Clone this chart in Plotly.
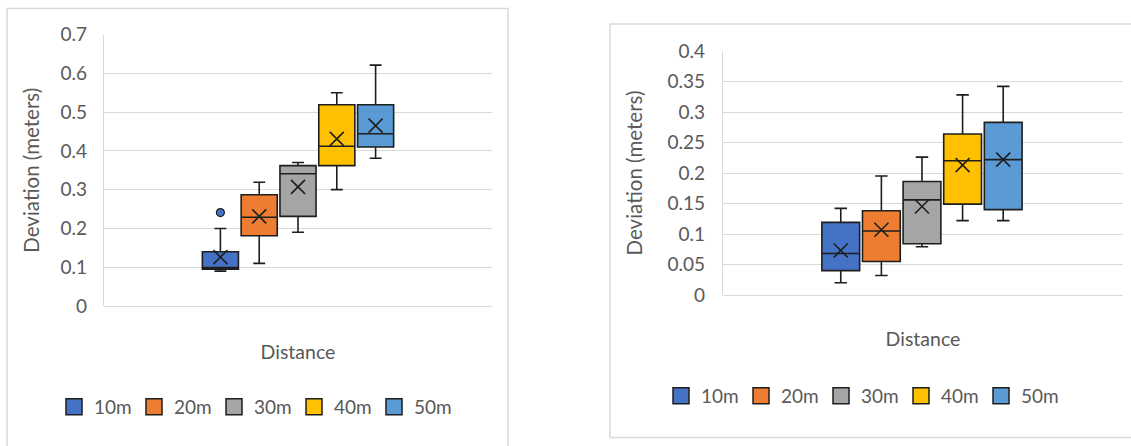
import plotly.graph_objects as go

# ---------------- data ----------------
categories = ["10m", "20m", "30m", "40m", "50m"]
colors = ["#4472C4", "#ED7D31", "#A5A5A5", "#FFC000", "#5B9BD5"]

# left chart
a_lower = [0.090, 0.110, 0.190, 0.300, 0.381]
a_q1 = [0.095, 0.181, 0.231, 0.362, 0.410]
a_median = [0.099, 0.229, 0.341, 0.412, 0.444]
a_q3 = [0.140, 0.287, 0.362, 0.519, 0.519]
a_upper = [0.200, 0.319, 0.370, 0.550, 0.621]
a_mean = [0.126, 0.231, 0.307, 0.431, 0.465]
a_outlier_cat = ["10m"]
a_outlier_val = [0.241]

# right chart
b_lower = [0.020, 0.032, 0.079, 0.122, 0.122]
b_q1 = [0.040, 0.055, 0.084, 0.149, 0.140]
b_median = [0.068, 0.105, 0.156, 0.220, 0.222]
b_q3 = [0.119, 0.138, 0.186, 0.264, 0.283]
b_upper = [0.142, 0.195, 0.226, 0.328, 0.342]
b_mean = [0.073, 0.107, 0.145, 0.213, 0.222]

y_title = "Deviation (meters)"
x_title = "Distance"

# ---------------- styling ----------------
W, H = 1131, 446
FONT = "Lato"
TXT = "#595959"
GRID = "#D9D9D9"
EDGE = "#1E1E1E"


def px(x):
    return x / W


def py(y):
    return 1 - y / H


fig = go.Figure()


def add_chart(xa, ya, legend, lower, q1, med, q3, upper, mean):
    for i, cat in enumerate(categories):
        fig.add_trace(go.Box(
            x=[cat], q1=[q1[i]], median=[med[i]], q3=[q3[i]],
            lowerfence=[lower[i]], upperfence=[upper[i]],
            fillcolor=colors[i], line=dict(color=EDGE, width=1.6),
            width=0.93, whiskerwidth=0.33, boxpoints=False,
            xaxis=xa, yaxis=ya, showlegend=False, legendgroup=legend + cat,
            name=cat, hoverinfo="y"))
        # legend proxy
        fig.add_trace(go.Scatter(
            x=[None], y=[None], mode="markers", name=cat,
            marker=dict(symbol="square", size=17, color=colors[i],
                        line=dict(color=EDGE, width=1.5)),
            xaxis=xa, yaxis=ya, legend=legend, legendgroup=legend + cat,
            showlegend=True))
    fig.add_trace(go.Scatter(
        x=categories, y=mean, mode="markers", showlegend=False,
        marker=dict(symbol="x-thin", size=14, color=EDGE,
                    line=dict(color=EDGE, width=1.6)),
        xaxis=xa, yaxis=ya, hoverinfo="y"))


add_chart("x", "y", "legend", a_lower, a_q1, a_median, a_q3, a_upper, a_mean)
fig.add_trace(go.Scatter(
    x=a_outlier_cat, y=a_outlier_val, mode="markers", showlegend=False,
    marker=dict(symbol="circle", size=8, color=colors[0],
                line=dict(color=EDGE, width=1.2)),
    xaxis="x", yaxis="y"))
add_chart("x2", "y2", "legend2", b_lower, b_q1, b_median, b_q3, b_upper, b_mean)


def xaxis_cfg(standoff):
    return dict(type="category", categoryorder="array", categoryarray=categories,
                showticklabels=False, showgrid=False, zeroline=False,
                showline=False, ticks="",
                title=dict(text=x_title, font=dict(size=19.5, color=TXT, family=FONT),
                           standoff=standoff))


def yaxis_cfg(lab_standoff, title_standoff):
    return dict(showgrid=True, gridcolor=GRID, gridwidth=1.4,
                zeroline=True, zerolinecolor=GRID, zerolinewidth=1.4,
                showline=True, linecolor=GRID, linewidth=1.4,
                ticks="", ticklabelstandoff=lab_standoff,
                tickfont=dict(size=19, color=TXT, family=FONT),
                title=dict(text=y_title, font=dict(size=20.5, color=TXT, family=FONT),
                           standoff=title_standoff))


fig.update_layout(
    width=W, height=H,
    margin=dict(l=0, r=0, t=0, b=0, pad=0, autoexpand=False),
    paper_bgcolor="white", plot_bgcolor="white",
    font=dict(family=FONT, color=TXT, size=18),
    boxmode="overlay",
    xaxis=dict(domain=[px(104), px(492)], range=[-3.0, 7.0], anchor="y", **xaxis_cfg(39)),
    yaxis=dict(domain=[py(306), py(34.5)], range=[0, 0.7], dtick=0.1,
               anchor="x", **yaxis_cfg(12, 15)),
    xaxis2=dict(domain=[px(723), px(1123)], range=[-2.9, 6.95], anchor="y2", **xaxis_cfg(37)),
    yaxis2=dict(domain=[py(295), py(51)], range=[0, 0.4], dtick=0.05,
                anchor="x2", **yaxis_cfg(13, 19)),
    legend=dict(orientation="h", x=px(54), xanchor="left", y=py(407), yanchor="middle",
                font=dict(size=19, color=TXT, family=FONT), itemwidth=30,
                entrywidth=35, entrywidthmode="pixels", bgcolor="rgba(0,0,0,0)",
                itemclick=False, itemdoubleclick=False),
    legend2=dict(orientation="h", x=px(661), xanchor="left", y=py(396), yanchor="middle",
                 font=dict(size=19, color=TXT, family=FONT), itemwidth=30,
                 entrywidth=35, entrywidthmode="pixels", bgcolor="rgba(0,0,0,0)",
                 itemclick=False, itemdoubleclick=False),
    shapes=[
        dict(type="rect", xref="paper", yref="paper", x0=px(7), x1=px(508),
             y0=py(452), y1=py(8.5), line=dict(color=GRID, width=1.5), layer="below"),
        dict(type="rect", xref="paper", yref="paper", x0=px(610), x1=px(1140),
             y0=py(437.5), y1=py(24), line=dict(color=GRID, width=1.5), layer="below"),
    ],
)

fig.write_html("out.html", config={"displayModeBar": False},
               post_script="document.body.style.margin='0';document.body.style.overflow='hidden';")
